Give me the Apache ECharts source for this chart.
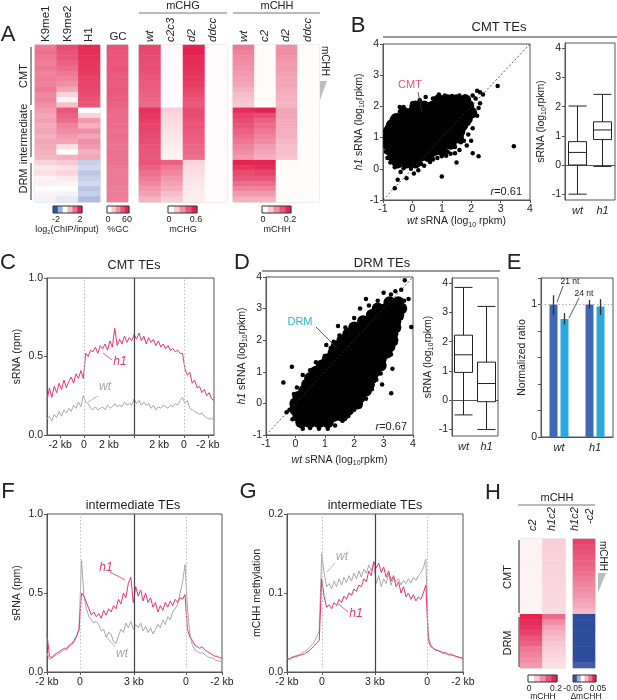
<!DOCTYPE html>
<html>
<head>
<meta charset="utf-8">
<script src="https://cdn.jsdelivr.net/npm/echarts@6/dist/echarts.min.js"></script>
<style>
html, body { margin: 0; padding: 0; background: #fff; }
#chart { width: 617px; height: 700px; }
</style>
</head>
<body>
<div id="chart"></div>
<script>
// ---------- panel A: heatmap rows (CMT 12, intermediate 10, DRM 8) ----------
const chipCols = ['K9me1', 'K9me2', 'H1'];
const k9me1 = [1.2,1.25,1.2,1.15,1.2,1.1,1.15,1.1,1.2,1.05,1.1,1.0, 0.9,0.8,0.85,0.75,0.8,0.7,0.8,0.75,0.7,0.65, 0.4,0.2,0.3,0.1,0.15,0.0,0.1,-0.2];
const k9me2 = [1.6,1.5,1.5,1.4,1.3,1.2,1.1,1.0,0.8,0.4,0.1,0.6, 1.5,1.4,1.3,1.1,1.0,0.9,0.8,0.3,0.0,0.7, 0.5,0.3,0.4,0.2,0.1,0.0,-0.2,-0.4];
const h1Chip = [1.9,1.9,1.85,1.8,1.8,1.75,1.7,1.7,1.65,1.6,1.55,1.5, 0.0,0.4,0.9,0.7,1.0,0.8,1.0,0.9,0.7,0.8, -0.7,-0.6,-0.8,-0.7,-0.6,-0.8,-0.7,-0.9];
const gcPct = [46,45,45,44,45,44,44,43,44,43,43,42, 40,39,40,39,38,39,38,37,38,37, 37,36,35,36,35,34,35,34];
const chgCols = ['wt', 'c2c3', 'd2', 'ddcc'];
const chgWt = [0.5,0.49,0.48,0.47,0.47,0.46,0.45,0.44,0.43,0.42,0.41,0.4, 0.56,0.54,0.52,0.5,0.5,0.48,0.47,0.46,0.45,0.44, 0.46,0.42,0.38,0.35,0.32,0.28,0.25,0.2];
const chgC2c3 = [0.01,0.01,0.01,0.01,0.01,0.01,0.01,0.01,0.01,0.01,0.01,0.01, 0.13,0.11,0.1,0.09,0.08,0.07,0.06,0.05,0.04,0.03, 0.42,0.36,0.32,0.28,0.25,0.22,0.18,0.14];
const chgD2 = [0.6,0.6,0.58,0.57,0.56,0.55,0.54,0.52,0.5,0.48,0.46,0.44, 0.48,0.48,0.46,0.45,0.44,0.43,0.42,0.41,0.4,0.38, 0.12,0.1,0.09,0.08,0.07,0.06,0.05,0.05];
const chgDdcc = [0.01,0.01,0.01,0.01,0.01,0.01,0.01,0.01,0.01,0.01,0.01,0.01, 0.01,0.01,0.01,0.01,0.01,0.01,0.01,0.01,0.01,0.01, 0.01,0.01,0.01,0.01,0.01,0.01,0.01,0.01];
const chhCols = ['wt', 'c2', 'd2', 'ddcc'];
const chhWt = [0.12,0.11,0.105,0.1,0.095,0.09,0.085,0.08,0.07,0.06,0.055,0.05, 0.19,0.17,0.16,0.15,0.14,0.13,0.12,0.11,0.1,0.09, 0.2,0.18,0.16,0.15,0.13,0.11,0.09,0.07];
const chhC2 = [0.004,0.004,0.004,0.004,0.004,0.004,0.004,0.004,0.004,0.004,0.004,0.004, 0.2,0.16,0.14,0.13,0.12,0.11,0.1,0.09,0.08,0.07, 0.2,0.19,0.17,0.15,0.13,0.11,0.09,0.07];
const chhD2 = [0.1,0.1,0.095,0.09,0.09,0.085,0.08,0.08,0.075,0.07,0.07,0.065, 0.08,0.08,0.075,0.075,0.07,0.07,0.065,0.06,0.06,0.055, 0.004,0.004,0.004,0.004,0.004,0.004,0.004,0.004];
const chhDdcc = [0.003,0.003,0.003,0.003,0.003,0.003,0.003,0.003,0.003,0.003,0.003,0.003, 0.003,0.003,0.003,0.003,0.003,0.003,0.003,0.003,0.003,0.003, 0.003,0.003,0.003,0.003,0.003,0.003,0.003,0.003];

// ---------- panel H: heatmap rows (CMT 14, DRM 10) ----------
const hCols = ['c2', 'h1c2'];
const hC2 = [0.012,0.012,0.012,0.012,0.012,0.012,0.012,0.012,0.012,0.012,0.012,0.012,0.012,0.012, 0.2,0.19,0.18,0.17,0.15,0.14,0.12,0.11,0.1,0.09];
const hH1c2 = [0.045,0.044,0.043,0.042,0.041,0.04,0.04,0.039,0.038,0.037,0.036,0.035,0.034,0.033, 0.13,0.1,0.08,0.07,0.06,0.05,0.045,0.04,0.035,0.03];
const hDelta = [0.042,0.04,0.038,0.036,0.035,0.033,0.031,0.029,0.027,0.025,0.023,0.021,0.019,0.016, -0.05,-0.05,-0.05,-0.05,-0.05,-0.05,-0.05,-0.05,-0.05,-0.045];

// ---------- panel B: CMT TEs scatter + box ----------
// dense middle of the cloud (drawn with bigger dots), then the ragged fringe and outliers
const bCore = [[0.9,2.2],[1.2,2.2],[1.5,2.2],[1.8,2.2],
  [0.1,2.0],[0.4,2.0],[0.7,2.0],[1.0,2.0],[1.3,2.0],[1.6,2.0],[1.9,2.0],
  [-0.3,1.8],[0.0,1.8],[0.3,1.8],[0.6,1.8],[0.9,1.8],[1.2,1.8],[1.5,1.8],[1.8,1.8],[2.0,1.8],
  [-0.55,1.6],[-0.25,1.6],[0.05,1.6],[0.35,1.6],[0.65,1.6],[0.95,1.6],[1.25,1.6],[1.55,1.6],[1.85,1.6],
  [-0.7,1.4],[-0.4,1.4],[-0.1,1.4],[0.2,1.4],[0.5,1.4],[0.8,1.4],[1.1,1.4],[1.4,1.4],[1.7,1.4],
  [-0.8,1.2],[-0.5,1.2],[-0.2,1.2],[0.1,1.2],[0.4,1.2],[0.7,1.2],[1.0,1.2],[1.3,1.2],[1.6,1.2],
  [-0.8,1.0],[-0.5,1.0],[-0.2,1.0],[0.1,1.0],[0.4,1.0],[0.7,1.0],[1.0,1.0],[1.3,1.0],[1.55,1.0],
  [-0.8,0.8],[-0.5,0.8],[-0.2,0.8],[0.1,0.8],[0.4,0.8],[0.7,0.8],[1.0,0.8],[1.3,0.8],
  [-0.75,0.6],[-0.45,0.6],[-0.15,0.6],[0.15,0.6],[0.45,0.6],[0.75,0.6],[1.0,0.6],
  [-0.65,0.4],[-0.35,0.4],[-0.05,0.4],[0.25,0.4],[0.55,0.4],
  [-0.5,0.2],[-0.2,0.2],[0.1,0.2]];
const bEdge = [[-0.3,1.98],[0.0,2.1],[0.25,2.2],[0.45,2.3],[0.7,2.25],[0.9,2.38],[1.1,2.35],[1.35,2.33],[1.6,2.35],[1.8,2.32],
  [2.0,2.1],[2.15,2.25],[2.3,2.45],[2.4,2.38],[2.2,2.5],[2.25,1.95],[2.2,1.7],[2.3,2.1],[2.05,2.35],
  [-0.92,0.95],[-0.92,1.1],[-0.92,0.7],[-0.9,0.55],[-0.85,1.35],[-0.7,1.6],[-0.92,0.85],[-0.85,0.35],
  [-0.75,0.2],[-0.6,0.05],[-0.4,-0.1],[-0.2,-0.3],[-0.05,0.0],[0.05,-0.15],[0.3,0.15],[0.4,0.1],[0.6,0.22],
  [0.7,0.3],[0.85,0.35],[1.0,0.4],[1.15,0.42],[1.3,0.48],[1.45,0.5],[1.6,0.6],[1.2,0.55],[1.45,0.7],
  [1.75,0.9],[1.9,1.1],[2.0,0.9],[2.05,1.3],[1.85,0.75],[1.65,0.85],[1.9,1.45],[-0.3,0.02],[0.2,-0.05],
  [-0.6,-0.62],[1.0,-0.25],[2.25,0.4],[3.45,0.72],[2.9,2.65],[-0.43,1.98],[2.05,0.5],[-0.5,-0.35],[1.5,0.2]];
const bBoxWt = [-1.0, 0.0, 0.43, 0.8, 2.02];
const bBoxH1 = [-0.05, 0.87, 1.2, 1.48, 2.42];

// ---------- panel D: DRM TEs scatter + box ----------
const dCore = [[0.2,-0.6],[0.5,-0.6],[0.8,-0.6],[1.1,-0.6],
  [0.1,-0.4],[0.4,-0.4],[0.7,-0.4],[1.0,-0.4],[1.3,-0.4],[1.6,-0.4],
  [0.0,-0.2],[0.3,-0.2],[0.6,-0.2],[0.9,-0.2],[1.2,-0.2],[1.5,-0.2],[1.8,-0.2],
  [0.0,0.0],[0.3,0.0],[0.6,0.0],[0.9,0.0],[1.2,0.0],[1.5,0.0],[1.8,0.0],[2.1,0.0],
  [0.1,0.2],[0.4,0.2],[0.7,0.2],[1.0,0.2],[1.3,0.2],[1.6,0.2],[1.9,0.2],[2.2,0.2],
  [0.3,0.4],[0.6,0.4],[0.9,0.4],[1.2,0.4],[1.5,0.4],[1.8,0.4],[2.1,0.4],[2.4,0.4],
  [0.4,0.6],[0.7,0.6],[1.0,0.6],[1.3,0.6],[1.6,0.6],[1.9,0.6],[2.2,0.6],[2.5,0.6],
  [0.5,0.8],[0.8,0.8],[1.1,0.8],[1.4,0.8],[1.7,0.8],[2.0,0.8],[2.3,0.8],[2.6,0.8],
  [0.7,1.0],[1.0,1.0],[1.3,1.0],[1.6,1.0],[1.9,1.0],[2.2,1.0],[2.5,1.0],[2.7,1.0],
  [0.9,1.2],[1.2,1.2],[1.5,1.2],[1.8,1.2],[2.1,1.2],[2.4,1.2],[2.7,1.2],[2.9,1.2],
  [1.1,1.4],[1.4,1.4],[1.7,1.4],[2.0,1.4],[2.3,1.4],[2.6,1.4],[2.9,1.4],
  [1.3,1.6],[1.6,1.6],[1.9,1.6],[2.2,1.6],[2.5,1.6],[2.8,1.6],[3.1,1.6],
  [1.4,1.8],[1.7,1.8],[2.0,1.8],[2.3,1.8],[2.6,1.8],[2.9,1.8],[3.2,1.8],
  [1.6,2.0],[1.9,2.0],[2.2,2.0],[2.5,2.0],[2.8,2.0],[3.1,2.0],[3.3,2.0],
  [1.8,2.2],[2.1,2.2],[2.4,2.2],[2.7,2.2],[3.0,2.2],[3.3,2.2],
  [2.0,2.4],[2.3,2.4],[2.6,2.4],[2.9,2.4],[3.2,2.4],[3.4,2.4],
  [2.3,2.6],[2.6,2.6],[2.9,2.6],[3.2,2.6],[3.4,2.6],
  [2.6,2.8],[2.9,2.8],[3.2,2.8],[3.5,2.8],
  [2.8,3.0],[3.1,3.0],[3.4,3.0],[3.6,3.0],
  [3.2,3.2],[3.5,3.2]];
const dEdge = [[-0.12,1.16],[-0.41,0.66],[0.05,0.5],[0.25,0.9],[0.5,1.05],[0.7,1.3],[1.0,1.5],[1.2,1.75],[1.3,1.95],
  [1.5,2.15],[1.7,2.4],[2.0,2.7],[2.2,3.0],[2.5,3.1],[2.8,3.25],[3.0,3.5],[3.25,3.45],[3.4,3.55],[3.6,3.6],[3.72,3.9],
  [3.7,3.25],[3.6,2.9],[3.5,2.45],[3.94,2.42],[3.6,2.7],[3.4,1.9],[3.25,1.55],[3.0,1.2],[2.9,0.95],[2.75,0.75],
  [2.6,0.45],[2.4,0.15],[2.2,-0.1],[2.0,-0.2],[1.8,-0.4],[1.6,-0.55],[1.35,-0.7],[1.1,-0.8],[0.8,-0.8],
  [0.5,-0.78],[0.25,-0.8],[-0.1,-0.5],[-0.05,0.3],[3.26,0.32],[2.95,0.6],[3.3,1.1],[2.4,3.3],[1.05,1.85],
  [-0.3,-0.28],[-0.2,-0.2],[-0.1,-0.1],[0.0,-0.02],[0.1,0.06],[0.2,0.14],[0.3,0.22],[1.45,2.45],[3.85,3.3]];
const dBoxWt = [-0.5, 0.95, 1.55, 2.22, 3.85];
const dBoxH1 = [-1.0, -0.05, 0.57, 1.3, 3.2];
const boxCats = ['wt', 'h1'];
const diagLine = [[-1, -1], [4, 4]];

// ---------- panel E: normalized ratio ----------
const eCats = ['wt', 'h1'];
const e21 = [1.0, 1.0];
const e24 = [0.89, 0.985];
const e21Err = [[0.92, 1.07], [0.97, 1.035]];
const e24Err = [[0.85, 0.935], [0.92, 1.04]];

// ---------- profiles C, F, G ----------
const cWt = [0.10,0.12,0.09,0.13,0.11,0.15,0.12,0.16,0.14,0.17,0.15,0.19,0.17,0.21,0.18,0.25,
  0.21,0.20,0.17,0.16,0.18,0.16,0.17,0.18,0.16,0.19,0.17,0.18,0.20,0.18,0.19,0.18,0.21,0.19,0.20,0.19,
  0.23,0.20,0.22,0.19,0.21,0.19,0.20,0.17,0.19,0.16,0.18,0.17,0.19,0.18,0.17,0.19,0.18,0.20,0.19,0.22,0.24,
  0.20,0.22,0.17,0.16,0.15,0.14,0.13,0.14,0.12,0.11,0.10,0.11,0.09];
const cH1 = [0.22,0.30,0.24,0.31,0.27,0.33,0.29,0.35,0.30,0.34,0.37,0.33,0.39,0.36,0.41,0.36,
  0.52,0.50,0.54,0.53,0.56,0.52,0.57,0.55,0.58,0.54,0.60,0.56,0.68,0.57,0.61,0.58,0.63,0.59,0.62,0.60,
  0.64,0.61,0.65,0.60,0.63,0.58,0.62,0.59,0.61,0.57,0.60,0.56,0.58,0.55,0.57,0.54,0.55,0.53,0.54,0.52,0.52,
  0.42,0.38,0.40,0.33,0.35,0.30,0.31,0.27,0.29,0.25,0.27,0.23,0.22];
const cTicks = [5.4, 15.3, 25.6, 36, 46.3, 56.6, 66.5];
const cTickLabels = ['-2 kb', '0', '2 kb', '', '2 kb', '0', '-2 kb'];

const fWt = [0.12,0.08,0.09,0.10,0.11,0.12,0.13,0.14,0.14,0.16,0.17,0.19,0.22,0.27,
  0.71,0.48,0.40,0.35,0.33,0.31,0.32,0.30,0.26,0.27,0.22,0.25,0.24,0.19,0.18,0.23,0.27,0.25,0.31,0.28,0.32,0.27,
  0.30,0.28,0.31,0.26,0.29,0.25,0.28,0.24,0.27,0.30,0.28,0.33,0.30,0.35,0.33,0.38,0.40,0.43,0.50,0.57,0.68,
  0.40,0.24,0.17,0.14,0.13,0.12,0.12,0.11,0.10,0.09,0.09,0.08,0.07,0.07,0.06];
const fH1 = [0.24,0.10,0.09,0.11,0.12,0.13,0.14,0.15,0.15,0.17,0.18,0.20,0.23,0.27,
  0.50,0.48,0.44,0.40,0.36,0.38,0.35,0.37,0.34,0.39,0.36,0.40,0.38,0.42,0.40,0.46,0.43,0.50,0.47,0.56,0.60,0.44,
  0.54,0.48,0.52,0.45,0.50,0.44,0.47,0.41,0.44,0.38,0.42,0.39,0.44,0.41,0.45,0.42,0.46,0.44,0.47,0.46,0.49,
  0.27,0.22,0.20,0.17,0.16,0.15,0.16,0.14,0.13,0.12,0.11,0.10,0.10,0.09,0.09];
const fTicks = [0, 13.4, 35.3, 56.4, 71];
const gWt = [0.017,0.017,0.019,0.020,0.021,0.022,0.024,0.026,0.028,0.031,0.034,0.038,0.045,0.052,
  0.150,0.125,0.108,0.112,0.105,0.115,0.108,0.118,0.110,0.120,0.113,0.122,0.115,0.125,0.118,0.128,0.120,0.130,0.125,0.135,0.128,0.138,
  0.112,0.122,0.108,0.118,0.112,0.125,0.110,0.120,0.114,0.118,0.110,0.116,0.112,0.118,0.113,0.120,0.116,0.122,0.125,0.132,0.143,
  0.045,0.035,0.030,0.028,0.027,0.025,0.024,0.023,0.022,0.021,0.021,0.020,0.019,0.018,0.018];
const gH1 = [0.017,0.016,0.018,0.019,0.020,0.021,0.022,0.023,0.025,0.027,0.030,0.033,0.037,0.040,
  0.118,0.095,0.082,0.085,0.080,0.088,0.084,0.092,0.088,0.096,0.092,0.100,0.097,0.105,0.102,0.110,0.108,0.118,0.114,0.128,0.122,0.140,
  0.132,0.138,0.126,0.133,0.120,0.128,0.115,0.122,0.108,0.114,0.100,0.108,0.095,0.100,0.092,0.098,0.090,0.095,0.092,0.100,0.110,
  0.040,0.032,0.030,0.028,0.027,0.026,0.024,0.025,0.022,0.023,0.021,0.020,0.019,0.018,0.017];
const gTicks = [0, 14.1, 35.5, 56.5, 71];
const fgTickLabels = ['-2 kb', '0', '3 kb', '0', '-2 kb'];

// ---------- styling ----------
const FONT = '"Liberation Sans", Arial, sans-serif';
const AX = '#555', TX = '#222';
const PINK = '#e8336f', GREY = '#a8a8a8';
const RED_SCALE = ['#ffffff', '#f8c9d3', '#f08ea5', '#ea5679', '#e32350'];
const DIV_SCALE = ['#2e4c9c', '#6479bb', '#a3b1da', '#dfe4f3', '#ffffff', '#f8c9d3', '#f08ea5', '#ea5679', '#e32350'];

const chart = echarts.init(document.getElementById('chart'));

function heatData(cols) {
  const out = [];
  cols.forEach((col, ci) => col.forEach((v, ri) => out.push([ci, ri, v])));
  return out;
}
function rows(n) { const r = []; for (let i = 0; i < n; i++) r.push('r' + i); return r; }
function prof(vals) { return vals.map((v, i) => [i, v]); }

const rich = {
  i: { fontStyle: 'italic', fontSize: 10.5, fontFamily: FONT, color: TX },
  s: { fontSize: 7, fontFamily: FONT, color: TX, verticalAlign: 'bottom', lineHeight: 14 }
};

function valAxis(gridIndex, min, max, extra) {
  const ax = {
    type: 'value', gridIndex, min, max,
    axisLine: { show: true, onZero: false, lineStyle: { color: AX } },
    axisTick: { show: true, length: 3, lineStyle: { color: AX } },
    axisLabel: { color: TX, fontSize: 10.5, fontFamily: FONT, margin: 4 },
    splitLine: { show: false },
    nameLocation: 'middle',
    nameTextStyle: { color: TX, fontSize: 10.5, fontFamily: FONT, rich }
  };
  for (const k in extra) {
    if (typeof extra[k] === 'object' && !Array.isArray(extra[k]) && ax[k]) ax[k] = Object.assign({}, ax[k], extra[k]);
    else ax[k] = extra[k];
  }
  return ax;
}
function tickAxis(gridIndex, n, ticks, labels) {
  return valAxis(gridIndex, 0, n - 1, {
    axisLabel: { customValues: ticks, margin: 5, formatter: v => { const i = ticks.indexOf(v); return i >= 0 ? labels[i] : ''; } },
    axisTick: { customValues: ticks }
  });
}
function hiddenCat(gridIndex, data, inverse) {
  return { type: 'category', gridIndex, data, show: false, inverse: !!inverse };
}

const heatGrid = { show: true, borderColor: '#d4d4d4', borderWidth: 1 };
const plotGrid = { show: true, borderColor: AX, borderWidth: 1 };
const grids = [
  Object.assign({ left: 35, top: 45, width: 65, height: 157 }, heatGrid),   // 0 A chip
  Object.assign({ left: 107, top: 45, width: 21, height: 157 }, heatGrid),  // 1 A gc
  Object.assign({ left: 139, top: 45, width: 88, height: 157 }, heatGrid),  // 2 A mCHG
  Object.assign({ left: 233, top: 45, width: 86, height: 157 }, heatGrid),  // 3 A mCHH
  Object.assign({ left: 383, top: 44, width: 147, height: 156 }, plotGrid), // 4 B scatter
  Object.assign({ left: 565, top: 43, width: 50, height: 157 }, plotGrid),  // 5 B box
  Object.assign({ left: 47, top: 278, width: 167, height: 157 }, plotGrid), // 6 C
  Object.assign({ left: 266, top: 277, width: 147, height: 158 }, plotGrid),// 7 D scatter
  Object.assign({ left: 452, top: 278, width: 46, height: 158 }, plotGrid), // 8 D box
  Object.assign({ left: 541, top: 278, width: 72, height: 159 }, plotGrid), // 9 E
  Object.assign({ left: 47, top: 514, width: 175, height: 158 }, plotGrid), // 10 F
  Object.assign({ left: 287, top: 514, width: 176, height: 158 }, plotGrid),// 11 G
  Object.assign({ left: 520, top: 539, width: 45, height: 129 }, heatGrid), // 12 H mCHH
  Object.assign({ left: 573, top: 539, width: 22, height: 129 }, heatGrid)  // 13 H delta
];

const boxLabel = { customValues: [-1, 0, 1, 2, 3, 4], margin: 4 };
const xAxes = [
  hiddenCat(0, chipCols), hiddenCat(1, ['GC']), hiddenCat(2, chgCols), hiddenCat(3, chhCols),
  valAxis(4, -1, 4, { interval: 1, name: '{i|wt} sRNA (log{s|10} rpkm)', nameGap: 11 }),
  { type: 'category', gridIndex: 5, data: boxCats, axisLine: { lineStyle: { color: AX } }, axisTick: { length: 3, lineStyle: { color: AX } },
    axisLabel: { color: TX, fontSize: 11, fontStyle: 'italic', fontFamily: FONT, margin: 5 } },
  tickAxis(6, cWt.length, cTicks, cTickLabels),
  valAxis(7, -1, 4, { interval: 1, name: '{i|wt} sRNA (log{s|10}rpkm)', nameGap: 18 }),
  { type: 'category', gridIndex: 8, data: boxCats, axisLine: { lineStyle: { color: AX } }, axisTick: { length: 3, lineStyle: { color: AX } },
    axisLabel: { color: TX, fontSize: 11, fontStyle: 'italic', fontFamily: FONT, margin: 5 } },
  { type: 'category', gridIndex: 9, data: eCats, axisLine: { lineStyle: { color: AX } }, axisTick: { show: false },
    axisLabel: { color: TX, fontSize: 11, fontStyle: 'italic', fontFamily: FONT, margin: 5 } },
  tickAxis(10, fWt.length, fTicks, fgTickLabels),
  tickAxis(11, gWt.length, gTicks, fgTickLabels),
  hiddenCat(12, hCols), hiddenCat(13, ['delta'])
];
const yAxes = [
  hiddenCat(0, rows(30), true), hiddenCat(1, rows(30), true), hiddenCat(2, rows(30), true), hiddenCat(3, rows(30), true),
  valAxis(4, -1, 4, { interval: 1, name: '{i|h1} sRNA (log{s|10}rpkm)', nameGap: 17 }),
  valAxis(5, -1.2, 4.18, { axisLabel: boxLabel, axisTick: { customValues: [-1, 0, 1, 2, 3, 4] }, name: 'sRNA (log{s|10}rpkm)', nameGap: 10 }),
  valAxis(6, 0, 1, { interval: 0.5, axisLabel: { formatter: v => v.toFixed(1) }, name: 'sRNA (rpm)', nameGap: 24 }),
  valAxis(7, -1, 4, { interval: 1, name: '{i|h1} sRNA (log{s|10}rpkm)', nameGap: 17 }),
  valAxis(8, -1.22, 4.17, { axisLabel: boxLabel, axisTick: { customValues: [-1, 0, 1, 2, 3, 4] }, name: 'sRNA (log{s|10}rpkm)', nameGap: 15 }),
  valAxis(9, 0, 1.2, { interval: 0.2, axisLabel: { formatter: v => (v === 0 ? '0' : (Math.abs(v - 1) < 1e-9 ? '1' : '')) }, name: 'Normalized ratio', nameGap: 13 }),
  valAxis(10, 0, 1, { interval: 0.5, axisLabel: { formatter: v => v.toFixed(1) }, name: 'sRNA (rpm)', nameGap: 24 }),
  valAxis(11, 0, 0.2, { interval: 0.1, axisLabel: { formatter: v => v.toFixed(1) }, name: 'mCHH methylation', nameGap: 24 }),
  hiddenCat(12, rows(24), true), hiddenCat(13, rows(24), true)
];

function heat(i, cols) {
  return { type: 'heatmap', xAxisIndex: i, yAxisIndex: i, data: heatData(cols), silent: true, itemStyle: { borderWidth: 0 }, progressive: 0 };
}
function vLines(dotted, solid) {
  return {
    symbol: 'none', silent: true, label: { show: false }, animation: false,
    data: dotted.map(x => ({ xAxis: x, lineStyle: { type: [1.5, 2], color: '#c4c4c4', width: 1 } }))
      .concat([{ xAxis: solid, lineStyle: { type: 'solid', color: '#444', width: 1.2 } }])
  };
}
function line(i, vals, color, mark) {
  const s = { type: 'line', xAxisIndex: i, yAxisIndex: i, data: prof(vals), symbol: 'none', silent: true,
    lineStyle: { color, width: 1 }, itemStyle: { color } };
  if (mark) s.markLine = mark;
  return s;
}
function scatter(i, pts, size) {
  return { type: 'scatter', xAxisIndex: i, yAxisIndex: i, data: pts, symbolSize: size, silent: true, itemStyle: { color: '#000', opacity: 1 } };
}
function diag(i) {
  return { type: 'line', xAxisIndex: i, yAxisIndex: i, data: diagLine, symbol: 'none', silent: true,
    lineStyle: { color: '#333', width: 0.8, type: [2, 2] } };
}
function box(i, d) {
  return { type: 'boxplot', xAxisIndex: i, yAxisIndex: i, data: d, boxWidth: [18, 18], silent: true,
    itemStyle: { color: '#fff', borderColor: '#222', borderWidth: 1 } };
}

const series = [
  heat(0, [k9me1, k9me2, h1Chip]),           // 0
  heat(1, [gcPct]),                          // 1
  heat(2, [chgWt, chgC2c3, chgD2, chgDdcc]), // 2
  heat(3, [chhWt, chhC2, chhD2, chhDdcc]),   // 3
  heat(12, [hC2, hH1c2]),                    // 4
  heat(13, [hDelta]),                        // 5
  diag(4), scatter(4, bCore, 12), scatter(4, bEdge, 4.5),
  box(5, [bBoxWt, bBoxH1]),
  line(6, cWt, GREY, vLines([15.3, 56.6], 36)), line(6, cH1, PINK),
  diag(7), scatter(7, dCore, 12), scatter(7, dEdge, 4.5),
  box(8, [dBoxWt, dBoxH1]),
  { type: 'bar', xAxisIndex: 9, yAxisIndex: 9, data: e21, barWidth: 8, barGap: '37.5%', silent: true, itemStyle: { color: '#4169b3' },
    markLine: { symbol: 'none', silent: true, label: { show: false }, data: [{ yAxis: 1 }], lineStyle: { type: [1.5, 2], color: '#b0b0b0', width: 1 } } },
  { type: 'bar', xAxisIndex: 9, yAxisIndex: 9, data: e24, barWidth: 8, silent: true, itemStyle: { color: '#2aa8e0' } },
  { type: 'custom', xAxisIndex: 9, yAxisIndex: 9, silent: true, z: 5,
    data: e21Err.map((e, k) => [k, e[0], e[1], 0]).concat(e24Err.map((e, k) => [k, e[0], e[1], 1])),
    renderItem: (params, api) => {
      const lo = api.coord([api.value(0), api.value(1)]);
      const hi = api.coord([api.value(0), api.value(2)]);
      const x = lo[0] + (api.value(3) === 0 ? -5.5 : 5.5);
      return { type: 'line', shape: { x1: x, y1: lo[1], x2: x, y2: hi[1] }, style: { stroke: '#333', lineWidth: 1.3 } };
    } },
  line(10, fWt, GREY, vLines([13.4, 56.4], 35.3)), line(10, fH1, PINK),
  line(11, gWt, GREY, vLines([14.1, 56.5], 35.5)), line(11, gH1, PINK)
];

const visualMaps = [
  { type: 'continuous', show: false, seriesIndex: 0, min: -2, max: 2, inRange: { color: DIV_SCALE } },
  { type: 'continuous', show: false, seriesIndex: 1, min: 0, max: 60, inRange: { color: RED_SCALE } },
  { type: 'continuous', show: false, seriesIndex: 2, min: 0, max: 0.6, inRange: { color: RED_SCALE } },
  { type: 'continuous', show: false, seriesIndex: 3, min: 0, max: 0.2, inRange: { color: RED_SCALE } },
  { type: 'continuous', show: false, seriesIndex: 4, min: 0, max: 0.2, inRange: { color: RED_SCALE } },
  { type: 'continuous', show: false, seriesIndex: 5, min: -0.05, max: 0.05, inRange: { color: DIV_SCALE } }
];

// ---------- annotations ----------
const g = [];
function T(x, y, text, o) {
  o = o || {};
  g.push({ type: 'text', x, y, rotation: o.rot || 0, silent: true, z: 100,
    style: { text, fill: o.fill || TX, align: o.align || 'center', verticalAlign: o.va || 'middle',
      fontSize: o.size || 11, fontFamily: FONT, fontStyle: o.italic ? 'italic' : 'normal',
      rich: o.rich } });
}
function L(x1, y1, x2, y2, o) {
  o = o || {};
  g.push({ type: 'line', silent: true, z: 100, shape: { x1, y1, x2, y2 }, style: { stroke: o.stroke || '#333', lineWidth: o.w || 1 } });
}
function bar(x, y, w, h, colors) {
  const bw = w / colors.length;
  colors.forEach((c, k) => g.push({ type: 'rect', silent: true, z: 100, shape: { x: x + k * bw, y, width: bw + 0.3, height: h }, style: { fill: c } }));
  g.push({ type: 'rect', silent: true, z: 101, shape: { x, y, width: w, height: h }, style: { fill: 'none', stroke: '#333', lineWidth: 1 } });
}
const up = Math.PI / 2, down = -Math.PI / 2;
const subRich = (size, fill) => ({
  i: { fontStyle: 'italic', fontSize: size, fontFamily: FONT, fill: fill || TX },
  s: { fontSize: size * 0.65, fontFamily: FONT, fill: fill || TX, verticalAlign: 'bottom', lineHeight: size * 1.3 }
});

// panel letters
[['A', 8, 35], ['B', 358, 26], ['C', 8, 263], ['D', 242, 263], ['E', 514, 263], ['F', 8, 492], ['G', 248, 492], ['H', 493, 493]]
  .forEach(([s, x, y]) => T(x, y, s, { size: 22 }));

// panel A headers
chipCols.forEach((s, k) => T([46, 68, 89][k], 42, s, { rot: up, align: 'left', size: 11.5 }));
T(118, 37, 'GC', { size: 11.5 });
T(183, 6, 'mCHG', { size: 11 }); L(139, 13, 227, 13, { stroke: '#777' });
T(277, 6, 'mCHH', { size: 11 }); L(233, 13, 320, 13, { stroke: '#777' });
chgCols.forEach((s, k) => T([150, 171, 192, 213][k], 42, s, { rot: up, align: 'left', size: 11.5, italic: true }));
chhCols.forEach((s, k) => T([244, 265, 286, 308][k], 42, s, { rot: up, align: 'left', size: 11.5, italic: true }));
T(24, 76, 'CMT', { rot: up, size: 11 }); L(31, 47, 31, 105);
T(24, 134, 'intermediate', { rot: up, size: 11 }); L(31, 110, 31, 157);
T(24, 181, 'DRM', { rot: up, size: 11 }); L(31, 163, 31, 200);
T(325, 61, 'mCHH', { rot: down, size: 10 });
g.push({ type: 'polygon', silent: true, z: 100, shape: { points: [[320, 81], [327, 81], [320, 100]] }, style: { fill: '#bdbdbd' } });
bar(53, 206, 29, 7, ['#3653a3', '#9fb0da', '#ffffff', '#f5b7c5', '#ec7090', '#e32350']);
T(56, 220, '-2', { size: 9 }); T(80, 220, '2', { size: 9 });
T(67, 230, 'log{s|2}(ChIP/input)', { size: 9, rich: subRich(9) });
bar(107, 206, 22, 7, RED_SCALE); T(108, 220, '0', { size: 9 }); T(127, 220, '60', { size: 9 }); T(118, 230, '%GC', { size: 9 });
bar(168, 206, 29, 7, RED_SCALE); T(169, 220, '0', { size: 9 }); T(196, 220, '0.6', { size: 9 }); T(183, 230, 'mCHG', { size: 9 });
bar(262, 206, 29, 7, RED_SCALE); T(263, 220, '0', { size: 9 }); T(290, 220, '0.2', { size: 9 }); T(277, 230, 'mCHH', { size: 9 });

// panel B
T(499, 27, 'CMT TEs', { size: 13 }); L(383, 37, 617, 37);
T(410, 85, 'CMT', { size: 11, fill: '#e8566b' }); L(418, 92, 422, 112, { w: 0.8 });
T(522, 192, '{i|r}=0.61', { size: 11, align: 'right', rich: subRich(11) });

// panel C
T(134, 266, 'CMT TEs', { size: 12.5 });
T(120, 362, 'h1', { size: 12, italic: true, fill: PINK }); L(103, 353, 112, 360, { stroke: PINK, w: 0.8 });
T(105, 387, 'wt', { size: 12, italic: true, fill: GREY }); L(98, 396, 88, 402, { stroke: GREY, w: 0.8 });

// panel D
T(382, 263, 'DRM TEs', { size: 13 }); L(262, 271, 500, 271);
T(300, 322, 'DRM', { size: 11, fill: '#35b3c8' }); L(316, 327, 337, 348, { w: 0.8 });
T(407, 427, '{i|r}=0.67', { size: 11, align: 'right', rich: subRich(11) });

// panel E
T(570, 282, '21 nt', { size: 8.5 }); L(563, 286, 557, 302, { w: 0.8 });
T(584, 294, '24 nt', { size: 8.5 }); L(579, 298, 569, 318, { w: 0.8 });

// panels F, G
T(133, 506, 'intermediate TEs', { size: 12.5 });
T(106, 568, 'h1', { size: 12, italic: true, fill: PINK }); L(110, 572, 125, 580, { stroke: PINK, w: 0.8 });
T(122, 654, 'wt', { size: 12, italic: true, fill: GREY }); L(115, 647, 105, 635, { stroke: GREY, w: 0.8 });
T(375, 506, 'intermediate TEs', { size: 12.5 });
T(342, 557, 'wt', { size: 12, italic: true, fill: GREY }); L(335, 563, 327, 572, { stroke: GREY, w: 0.8 });
T(356, 614, 'h1', { size: 12, italic: true, fill: PINK }); L(348, 612, 337, 603, { stroke: PINK, w: 0.8 });

// panel H
T(557, 498, 'mCHH', { size: 11 }); L(518, 505, 595, 505, { stroke: '#777' });
T(533, 531, 'c2', { rot: up, align: 'left', size: 11, italic: true });
T(552, 531, 'h1c2', { rot: up, align: 'left', size: 11, italic: true });
T(575, 531, 'h1c2', { rot: up, align: 'left', size: 11, italic: true });
T(590, 524, '-c2', { rot: up, align: 'left', size: 11, italic: true });
T(508, 577, 'CMT', { rot: up, size: 11 }); L(519, 540, 519, 613);
T(508, 643, 'DRM', { rot: up, size: 11 }); L(519, 617, 519, 667);
T(603, 556, 'mCHH', { rot: down, size: 10 });
g.push({ type: 'polygon', silent: true, z: 100, shape: { points: [[598, 573], [606, 573], [598, 593]] }, style: { fill: '#bdbdbd' } });
bar(528, 675, 29, 7, RED_SCALE); T(529, 689, '0', { size: 8.5 }); T(556, 689, '0.2', { size: 8.5 }); T(543, 697, 'mCHH', { size: 8.5 });
bar(573, 675, 23, 7, ['#3653a3', '#9fb0da', '#ffffff', '#f5b7c5', '#ec7090', '#e32350']);
T(573, 689, '-0.05', { size: 8.5 }); T(598, 689, '0.05', { size: 8.5 }); T(586, 697, '\u0394mCHH', { size: 8.5 });

chart.setOption({
  animation: false,
  textStyle: { fontFamily: FONT },
  grid: grids,
  xAxis: xAxes,
  yAxis: yAxes,
  visualMap: visualMaps,
  series,
  graphic: { elements: g }
});
</script>
</body>
</html>
